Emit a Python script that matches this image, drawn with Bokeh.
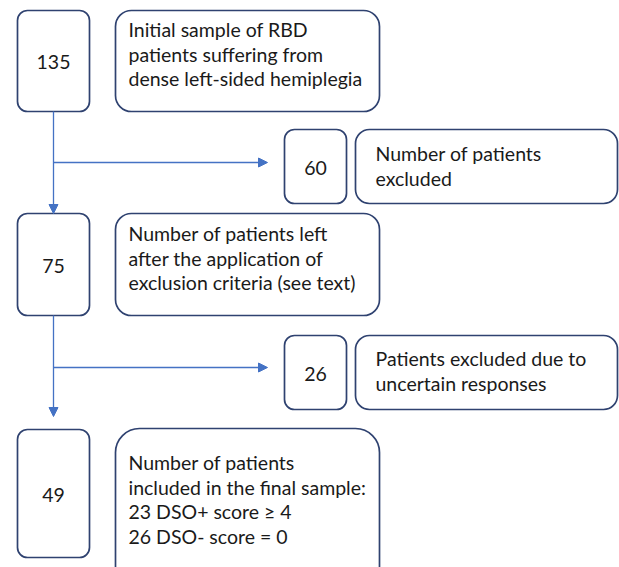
from bokeh.plotting import figure
from bokeh.models import Arrow, NormalHead, Range1d
from bokeh.core.properties import value
from bokeh.embed import file_html
from bokeh.resources import INLINE

# ---- data ----
counts = ["135", "60", "75", "26", "49"]
descriptions = [
    ["Initial sample of RBD", "patients suffering from", "dense left-sided hemiplegia"],
    ["Number of patients", "excluded"],
    ["Number of patients left", "after the application of", "exclusion criteria (see text)"],
    ["Patients excluded due to", "uncertain responses"],
    ["Number of patients", "included in the final sample:", "23 DSO+ score \u2265 4", "26 DSO- score = 0"],
]

# ---- layout (image pixel coordinates) ----
# count boxes: left, right, top, bottom
count_boxes = [(17, 89, 10, 111), (284, 346, 129, 203), (17, 89, 213, 315),
               (284, 346, 335, 409), (17, 89, 429, 557)]
desc_boxes = [(115, 379, 10, 111), (355, 617, 129, 203), (115, 379, 213, 315),
              (355, 617, 335, 409), (115, 379, 428, 590)]
desc_radius = [16, 14, 16, 14, 24]
desc_text_x = [128, 375, 128, 375, 128]
desc_first_y = [29, 153, 233, 358, 462]
line_step = 24.5

FONT = "Lato"
TEXT_COLOR = "#1a1a1a"
BOX_COLOR = "#2f4270"
ARROW_COLOR = "#4472c4"

W, H = 619, 567
p = figure(width=W, height=H, output_backend="svg", toolbar_location=None,
           x_range=Range1d(0, W), y_range=Range1d(H, 0),
           min_border=0, outline_line_color=None)
p.axis.visible = False
p.grid.visible = False
p.background_fill_color = "white"

# count boxes
for (l, r, t, b), c in zip(count_boxes, counts):
    p.quad(left=[l], right=[r], top=[t], bottom=[b], fill_color="white",
           line_color=BOX_COLOR, line_width=1.7, border_radius=10)
    p.text(x=[(l + r) / 2], y=[(t + b) / 2 + 1], text=[c], text_font=value(FONT),
           text_font_size="19.5px", text_align="center", text_baseline="middle",
           text_color=TEXT_COLOR)

# description boxes
for (l, r, t, b), rad, lines, tx, ty in zip(desc_boxes, desc_radius, descriptions,
                                            desc_text_x, desc_first_y):
    p.quad(left=[l], right=[r], top=[t], bottom=[b], fill_color="white",
           line_color=BOX_COLOR, line_width=1.7, border_radius=rad)
    ys = [ty + i * line_step for i in range(len(lines))]
    p.text(x=[tx] * len(lines), y=ys, text=lines, text_font=value(FONT),
           text_font_size="19.5px", text_align="left", text_baseline="middle",
           text_color=TEXT_COLOR)

# arrows
spine_x = 53
arrows = [
    (spine_x, 111, spine_x, 213),
    (spine_x, 162, 267, 162),
    (spine_x, 315, spine_x, 416),
    (spine_x, 367, 267, 367),
]
for xs, ys, xe, ye in arrows:
    p.add_layout(Arrow(x_start=xs, y_start=ys, x_end=xe, y_end=ye,
                       line_color=ARROW_COLOR, line_width=1.3,
                       end=NormalHead(size=9, fill_color=ARROW_COLOR,
                                      line_color=ARROW_COLOR)))

open("out.html", "w").write(file_html(p, INLINE))
